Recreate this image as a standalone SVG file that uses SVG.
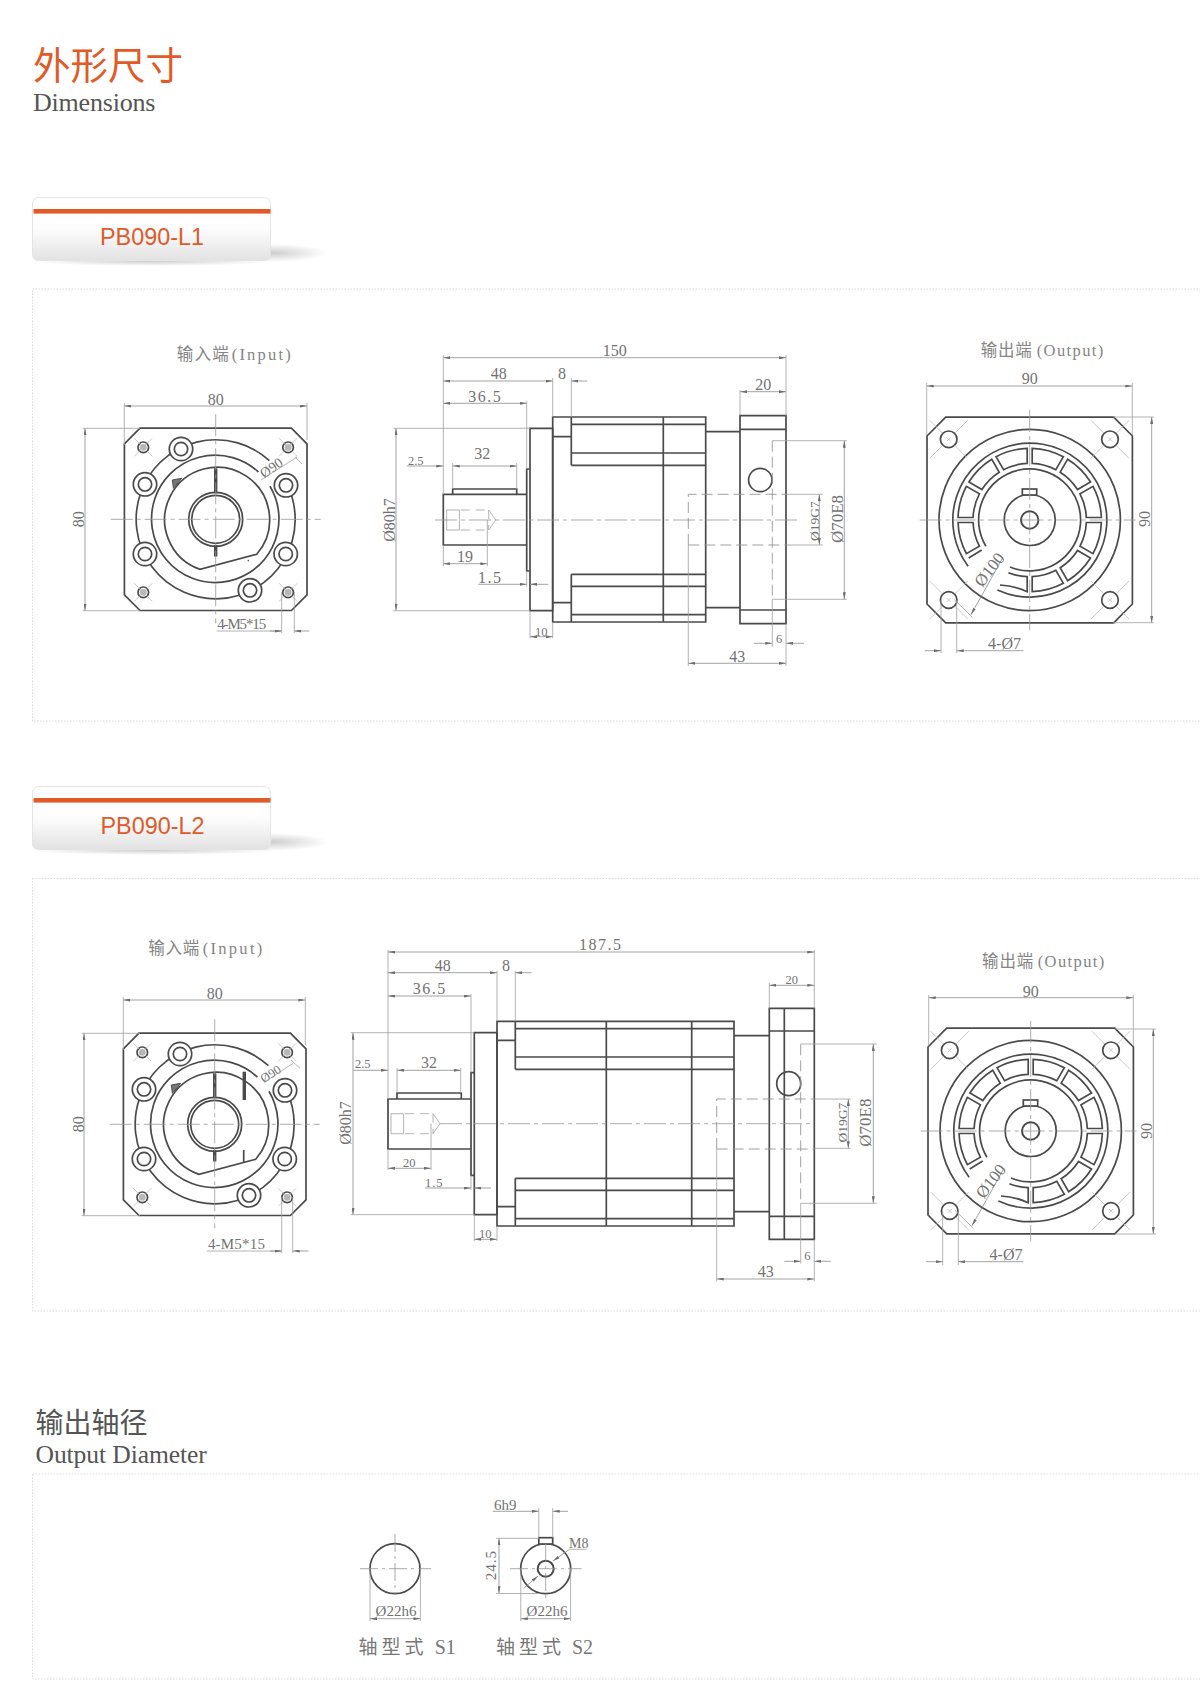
<svg xmlns="http://www.w3.org/2000/svg" xmlns:xlink="http://www.w3.org/1999/xlink" width="1200" height="1691" viewBox="0 0 1200 1691">
<style>
.m{fill:none;stroke:#4a4a4a;stroke-width:1.7}
.w{fill:#fff;stroke:#4a4a4a;stroke-width:1.7}
.b{fill:none;stroke:#4a4a4a;stroke-width:3.4}
.t{fill:none;stroke:#a0a0a0;stroke-width:.8}
.v{fill:none;stroke:#bcbcbc;stroke-width:.8}
.c{fill:none;stroke:#959595;stroke-width:.8;stroke-dasharray:22 4 4 4}
.h{fill:none;stroke:#959595;stroke-width:.9;stroke-dasharray:11 5}
.d{fill:none;stroke:#8a8a8a;stroke-width:.8;marker-start:url(#a);marker-end:url(#a)}
.r{fill:none;stroke:#8a8a8a;stroke-width:.8;marker-end:url(#a)}
.f{fill:none;stroke:#dcdcdc;stroke-width:1;stroke-dasharray:1.5 1.5}
text{font-family:"Liberation Serif","Noto Sans CJK SC",serif;fill:#727272}
.x{font-size:16px;text-anchor:middle}
.s{font-size:12.5px;text-anchor:middle}
.n{font-size:15px;text-anchor:middle}
.l{font-size:16.5px;fill:#858585}
.q{font-size:19px;fill:#777}
.g{font-family:"Liberation Sans",sans-serif;font-size:23.4px;fill:#e05a2b;text-anchor:middle}
</style>
<defs>
<marker id="a" viewBox="0 0 7 3" refX="7" refY="1.5" markerWidth="7" markerHeight="3" markerUnits="userSpaceOnUse" orient="auto-start-reverse"><path d="M0 0L7 1.5L0 3Z" fill="#6e6e6e"/></marker>
<linearGradient id="tg" x1="0" y1="0" x2="0" y2="1"><stop offset="0" stop-color="#fff"/><stop offset=".5" stop-color="#fdfdfd"/><stop offset="1" stop-color="#e2e2e2"/></linearGradient>
<radialGradient id="sg"><stop offset="0" stop-color="#cdcdcd"/><stop offset="1" stop-color="#cdcdcd" stop-opacity="0"/></radialGradient>
<g id="tab">
<ellipse cx="272" cy="253" rx="56" ry="9" fill="url(#sg)"/>
<ellipse cx="152" cy="261" rx="125" ry="5" fill="url(#sg)"/>
<rect x="32.5" y="197.5" width="238" height="63" rx="6" fill="url(#tg)" stroke="#e4e4e4"/>
<rect x="33.5" y="209" width="237" height="4.6" fill="#e25a28"/>
</g>
<g id="sm"><circle r="5.3" class="m"/><circle r="3.4" fill="#b5b5b5"/><path class="v" d="M-9-9L9 9M9-9L-9 9"/></g>
<g id="bolt"><circle r="11.7" class="w"/><circle r="6.7" class="m"/></g>
<g id="inPlate">
<path class="m" d="M-75.7-91.2H75.7L91.3-75.5V75.5L75.7 91.2H-75.7L-91.3 75.5V-75.5Z"/>
<path class="m" d="M71.5-34.7A79.5 79.5 0 1 1 53.7-58.6"/>
<path class="m" d="M54.3-33A63.7 63.7 0 1 1 42.7-47.3"/>
<path class="m" d="M41 35A52.5 52.5 0 1 0-15.7 50.1Z"/>
<path d="M-43.3-39.3L-34-41L-42.3-31Z" fill="#777" stroke="#4a4a4a"/>
<use href="#bolt" x="-34.7" y="-70.3"/><use href="#bolt" x="-70.7" y="-35"/><use href="#bolt" x="70.3" y="-34"/><use href="#bolt" x="-70.7" y="34.7"/><use href="#bolt" x="70" y="34.7"/><use href="#bolt" x="34.3" y="71"/>
<use href="#sm" x="-72.4" y="-72"/><use href="#sm" x="72.4" y="-72"/><use href="#sm" x="-72.4" y="73"/><use href="#sm" x="72.4" y="73"/>
<circle r="27" class="m"/><circle r="24" class="m"/>
<path class="b" d="M0-51V-26M0 25.7V37.3"/>
<path class="c" d="M-105 0H105M0-105V104"/>
</g>
<g id="hole"><circle r="8.3" class="m"/><path class="v" d="M-2-2L2 2M2-2L-2 2M-19-19L-6-6M6 6L19 19M19-19L6-6M-6 6L-19 19"/></g>
<path id="win" class="m" d="M71.66 2.5A71.7 71.7 0 0 1 63.31 33.67L50.3 26.15A56.7 56.7 0 0 0 56.64 2.5Z"/>
<g id="outPlate">
<path class="m" d="M-84-102.8H84L102.7-84V84L84 102.8H-84L-102.7 84V-84Z"/>
<circle r="90.7" class="m"/>
<path class="m" d="M-32.3 70A77 77 0 1 0-61.6 46.2"/>
<path class="m" d="M-19.7 47A51 51 0 1 0-43.8 26.2"/>
<use href="#win"/><use href="#win" transform="rotate(30)"/><use href="#win" transform="rotate(60)"/><use href="#win" transform="rotate(150)"/><use href="#win" transform="rotate(180)"/><use href="#win" transform="rotate(210)"/><use href="#win" transform="rotate(240)"/><use href="#win" transform="rotate(270)"/><use href="#win" transform="rotate(300)"/><use href="#win" transform="rotate(330)"/>
<path class="m" d="M-29.7 65A71.7 71.7 0 0 1-2.5 71.66V56.64A56.7 56.7 0 0 1-21.3 52.7M-61 38L-48 30"/>
<circle r="25.5" class="m"/>
<rect x="-7.4" y="-31" width="14.4" height="6" class="w"/>
<circle r="8.7" class="m" style="stroke-width:2"/>
<use href="#hole" x="-81" y="-80.7"/><use href="#hole" x="80.3" y="-80.7"/><use href="#hole" x="-81" y="80"/><use href="#hole" x="80.3" y="80"/>
<path class="c" d="M-110 0H106M0-110V110"/>
</g>
<g id="screw"><path class="t" d="M0-10H12.7V10H0ZM42-10L49 0L42 10"/><path class="t" style="stroke-dasharray:9 6" d="M14-10H42M14 10H42M42-10V10"/></g>
</defs>
<rect width="1200" height="1691" fill="#fff"/>

<g id="header">
<text x="33" y="79" style="font-family:'Noto Sans CJK SC',sans-serif;font-size:37.5px;fill:#e25a28">外形尺寸</text>
<text x="33" y="110.5" style="font-size:26px;letter-spacing:-.2px;fill:#555">Dimensions</text>
</g>

<g id="frames">
<rect class="f" x="32.5" y="289" width="1200" height="432"/>
<rect class="f" x="32.5" y="878.5" width="1200" height="432.5"/>
<rect class="f" x="32.5" y="1474" width="1200" height="205"/>
</g>

<g id="tab-L1"><use href="#tab"/><text class="g" x="152" y="245">PB090-L1</text></g>
<g id="tab-L2"><use href="#tab" y="589"/><text class="g" x="152.5" y="834">PB090-L2</text></g>

<g id="L1-input">
<use href="#inPlate" x="215.7" y="519.3"/>
<circle cx="248.3" cy="560.6" r=".8" fill="#555"/>
<text class="l" x="176.7" y="360" textLength="52" style="font-family:'Noto Sans CJK SC',sans-serif">输入端</text>
<text class="l" x="231.7" y="360" textLength="59">(Input)</text>
</g>
<g id="L1-side">
<path class="m" d="M443.3 494.3H526.7V545H443.3ZM452.7 494.3V489H516.7V494.3M526.7 469H530V571H526.7ZM530 428.3H552.7V610.7H530Z"/>
<path class="m" d="M552.7 417H705.7V622H552.7ZM552.7 436.7H571.3M552.7 602.7H571.3M571.3 417V465.3M571.3 574.3V622M571.3 424.3H705.7M571.3 453H705.7M571.3 465.3H705.7M571.3 574.3H705.7M571.3 586.3H705.7M571.3 614.7H705.7M663.3 417V622M705.7 431.7H740M705.7 607.7H740M740 415.7H786V623.7H740ZM740 429.3H786M740 610H786"/>
<circle class="m" cx="760.3" cy="480" r="11.7"/>
<use href="#screw" x="446.7" y="520"/>
<path class="h" d="M688.3 545V494.3H786M688.3 545H786M772.3 440.7V599.3"/>
<path class="c" d="M435 520H800"/>
</g>
<g id="L1-output">
<use href="#outPlate" x="1029.7" y="520"/>
<text class="l" x="980.7" y="355.7" textLength="51" style="font-family:'Noto Sans CJK SC',sans-serif">输出端</text>
<text class="l" x="1036.7" y="355.7" textLength="66.6">(Output)</text>
</g>

<g id="L1-dimensions">
<path class="d" d="M124.3 406H307"/><path class="t" d="M124.3 403V445M307 403V440"/><text class="x" x="215.7" y="404.5">80</text>
<path class="d" d="M85 428.3V610.7"/><path class="t" d="M82.7 428.3H140M82.7 610.7H140"/><text class="x" transform="translate(84 519.3) rotate(-90)">80</text>
<path class="t" d="M216.7 631H281.7"/><path class="r" d="M270 631H281.7"/><path class="r" d="M309.3 631H294.3"/><path class="t" d="M281.7 592V633M294.3 592V633"/><text class="n" x="241.7" y="629.3" textLength="49">4-M5*15</text>
<path class="t" d="M261 480L297 457M295 457L302 464"/><text class="s" transform="translate(271.7 468.3) rotate(-35)" y="4" style="font-size:14px">Ø90</text>

<path class="d" d="M443.3 357.7H786"/><path class="t" d="M443.3 355V494.3M786 355V415.7"/><text class="x" x="614.7" y="355.7">150</text>
<path class="d" d="M443.3 381H552.7"/><path class="r" d="M587.3 381H571.3"/><path class="t" d="M552.7 378V417M571.3 378V417"/><text class="x" x="498.7" y="378.7">48</text><text class="x" x="562" y="378.7">8</text>
<path class="d" d="M443.3 403.3H526.7"/><path class="t" d="M526.7 401V469"/><text class="x" x="485.3" y="401.7" style="letter-spacing:1.5px">36.5</text>
<path class="d" d="M396 428.3V610.7"/><path class="t" d="M393.3 428.3H530M393.3 610.7H530"/><text class="x" transform="translate(394.7 520) rotate(-90)">Ø80h7</text>
<path class="r" d="M406.7 466H443.3"/><text class="s" x="415.7" y="465">2.5</text>
<path class="d" d="M452.7 466H516.7"/><path class="t" d="M452.7 463V489M516.7 463V489"/><text class="x" x="482.3" y="459.3">32</text>
<path class="d" d="M443.3 563.7H487.3"/><path class="t" d="M443.3 545V566M487.3 520V566"/><text class="x" x="465" y="561.7">19</text>
<path class="r" d="M478.3 584.3H526.7"/><path class="r" d="M548.3 584.3H530"/><path class="t" d="M526.7 571V586.7"/><text class="x" x="490.3" y="582.7" style="letter-spacing:1.5px">1.5</text>
<path class="d" d="M530 636.7H552.7"/><path class="t" d="M530 610.7V638.3M552.7 622V638.3"/><text class="s" x="541.3" y="635.7">10</text>
<path class="r" d="M754 643.3H772.3"/><path class="r" d="M804 643.3H786"/><path class="t" d="M772.3 599.3V646.7M786 623.7V666"/><text class="s" x="779" y="642.7">6</text>
<path class="d" d="M688.3 663.3H786"/><path class="t" d="M688.3 545V666"/><text class="x" x="737.3" y="662">43</text>
<path class="d" d="M740 391.7H786"/><path class="t" d="M740 390V415.7"/><text class="x" x="763.3" y="390">20</text>
<path class="d" d="M844.3 440.7V599.3"/><path class="t" d="M772.3 440.7H846.7M772.3 599.3H846.7"/><text class="x" transform="translate(843 519) rotate(-90)" style="font-size:17px">Ø70E8</text>
<path class="d" d="M819.3 494.3V545"/><path class="t" d="M786 494.3H822.7M786 545H822.7"/><text class="s" transform="translate(818.5 521) rotate(-90)" style="font-size:13.5px">Ø19G7</text>

<path class="d" d="M926.7 386H1132.3"/><path class="t" d="M926.7 383V435M1132.3 383V435"/><text class="x" x="1029.7" y="384">90</text>
<path class="d" d="M1151.7 417V622.7"/><path class="t" d="M1113 417H1154M1113 622.7H1154"/><text class="x" transform="translate(1150 519) rotate(-90)">90</text>
<path class="r" d="M1003 557.3L971 614.7"/><path class="t" d="M954 599.3L972.4 617.3"/><text class="x" transform="translate(990 570) rotate(-52)" y="5" style="font-size:17px">Ø100</text>
<path class="r" d="M925 650.7H941"/><path class="r" d="M1023.3 650.7H956.7"/><path class="t" d="M941 600V653M956.7 600V653"/><text class="x" x="1004.5" y="649">4-Ø7</text>
</g>

<g id="L2-input">
<use href="#inPlate" x="214.7" y="1124.3"/>
<path class="b" d="M244.3 1071.7V1100"/>
<path class="m" d="M243.7 1150V1162"/>
<text class="l" x="148.3" y="954.3" textLength="51" style="font-family:'Noto Sans CJK SC',sans-serif">输入端</text>
<text class="l" x="202.7" y="954.3" textLength="59.6">(Input)</text>
</g>
<g id="L2-side">
<path class="m" d="M388 1099H471V1149H388ZM397 1099V1093H461.3V1099M471 1072.7H474.3V1175.3H471ZM474.3 1032.7H497V1214.7H474.3Z"/>
<path class="m" d="M497 1021.3H734V1226H497ZM497 1040.3H515.3M497 1206.7H515.3M515.3 1021.3V1069.3M515.3 1178.3V1226M515.3 1028.7H734M515.3 1057H734M515.3 1069.3H734M515.3 1178.3H734M515.3 1190.3H734M515.3 1218.7H734M606.3 1021.3V1226M691.7 1021.3V1226M734 1035.7H769.3M734 1211.7H769.3M769.3 1008.3H814.3V1239.3H769.3ZM769.3 1031H814.3M769.3 1216.3H814.3M784.3 1008.3V1239.3"/>
<circle class="m" cx="788.7" cy="1083.7" r="12"/>
<use href="#screw" x="391" y="1123.7"/>
<path class="h" d="M716.7 1149V1099H814.3M716.7 1149H814.3M800.7 1044.3V1203.3"/>
<path class="c" d="M440 1123.7H813"/>
</g>
<g id="L2-output">
<use href="#outPlate" x="1030.7" y="1131"/>
<text class="l" x="982" y="967.3" textLength="51.3" style="font-family:'Noto Sans CJK SC',sans-serif">输出端</text>
<text class="l" x="1037.7" y="967.3" textLength="66.6">(Output)</text>
</g>

<g id="L2-dimensions">
<path class="d" d="M123.3 1000H305.3"/><path class="t" d="M123.3 997V1050M305.3 997V1045"/><text class="x" x="214.7" y="999">80</text>
<path class="d" d="M84 1033.3V1215.7"/><path class="t" d="M81.5 1033.3H140M81.5 1215.7H140"/><text class="x" transform="translate(83.5 1124.3) rotate(-90)">80</text>
<path class="t" d="M206.7 1251H281.7"/><path class="r" d="M270 1251H281.7"/><path class="r" d="M308.3 1251H292.7"/><path class="t" d="M281.7 1197V1253M292.7 1197V1253"/><text class="n" x="236.4" y="1249.3" textLength="57">4-M5*15</text>
<path class="t" d="M265 1081.7L293 1063.3M291 1060L300 1068.3"/><text class="s" transform="translate(270.7 1074) rotate(-33)" y="4">Ø90</text>

<path class="d" d="M388 952H814.3"/><path class="t" d="M388 950V1099M814.3 950V1008.3"/><text class="x" x="600.7" y="950" style="letter-spacing:1.5px">187.5</text>
<path class="d" d="M388 972.7H497"/><path class="r" d="M531.7 972.7H515.3"/><path class="t" d="M497 970.7V1021.3M515.3 970.7V1021.3"/><text class="x" x="442.7" y="971">48</text><text class="x" x="506" y="971">8</text>
<path class="d" d="M388 996H471"/><path class="t" d="M471 994V1072.7"/><text class="x" x="429.7" y="994" style="letter-spacing:1.5px">36.5</text>
<path class="d" d="M353 1032.7V1214.7"/><path class="t" d="M350.7 1032.7H474.3M350.7 1214.7H474.3"/><text class="x" transform="translate(351 1123) rotate(-90)">Ø80h7</text>
<path class="r" d="M353.3 1070.3H388"/><text class="s" x="362.7" y="1067.7">2.5</text>
<path class="d" d="M397 1070.3H460.7"/><path class="t" d="M397 1068V1093M460.7 1068V1093"/><text class="x" x="429" y="1068">32</text>
<path class="d" d="M388 1168.3H431"/><path class="t" d="M388 1149V1170M431 1123.7V1170"/><text class="s" x="409.3" y="1167.3">20</text>
<path class="r" d="M425 1188H471"/><path class="r" d="M491 1188H474.3"/><path class="t" d="M471 1175.3V1190"/><text class="s" x="434.3" y="1186.7" style="letter-spacing:1px">1.5</text>
<path class="d" d="M474.3 1239.3H497"/><path class="t" d="M474.3 1214.7V1241M497 1226V1241"/><text class="s" x="485.3" y="1238.3">10</text>
<path class="r" d="M784.3 1261.3H800.7"/><path class="r" d="M830.7 1261.3H814.3"/><path class="t" d="M800.7 1203.3V1263.5M814.3 1239.3V1281.3"/><text class="s" x="807.3" y="1260">6</text>
<path class="d" d="M716.7 1279H814.3"/><path class="t" d="M716.7 1149V1281.3"/><text class="x" x="765.7" y="1277.3">43</text>
<path class="d" d="M769.3 985.3H814.3"/><path class="t" d="M769.3 983V1008.3"/><text class="s" x="791.7" y="984">20</text>
<path class="d" d="M873.3 1044V1203.3"/><path class="t" d="M800.7 1044H876.7M800.7 1203.3H876.7"/><text class="x" transform="translate(870.7 1122.7) rotate(-90)" style="font-size:17px">Ø70E8</text>
<path class="d" d="M848.3 1099V1148.3"/><path class="t" d="M814.3 1099H850.7M814.3 1148.3H850.7"/><text class="s" transform="translate(847.3 1122.7) rotate(-90)" style="font-size:13.5px">Ø19G7</text>

<path class="d" d="M928.7 997.7H1133.3"/><path class="t" d="M928.7 995V1046M1133.3 995V1046"/><text class="x" x="1030.7" y="996.7">90</text>
<path class="d" d="M1153.3 1029V1234"/><path class="t" d="M1115 1029H1156M1115 1234H1156"/><text class="x" transform="translate(1151.7 1131) rotate(-90)">90</text>
<path class="r" d="M1004 1168.3L972 1225.7"/><path class="t" d="M955 1210.3L973.4 1228.3"/><text class="x" transform="translate(991.5 1181.5) rotate(-52)" y="5" style="font-size:17px">Ø100</text>
<path class="r" d="M926 1261.7H942.7"/><path class="r" d="M1023.3 1261.7H958.3"/><path class="t" d="M942.7 1211V1265M958.3 1211V1265"/><text class="x" x="1006" y="1260">4-Ø7</text>
</g>

<g id="output-diameter-title">
<text x="35.5" y="1433" style="font-family:'Noto Sans CJK SC',sans-serif;font-size:28px;fill:#555">输出轴径</text>
<text x="35.5" y="1463.3" style="font-size:25.6px;fill:#555;letter-spacing:-.1px">Output Diameter</text>
</g>
<g id="shaft-S1">
<circle class="m" cx="395" cy="1568.7" r="25"/>
<path class="c" style="stroke-dasharray:18 4 3 4" d="M360 1568.7H431M395 1534V1594"/>
<path class="d" d="M370 1618.7H420.4"/><path class="t" d="M370 1568.7V1621M420.4 1568.7V1621"/>
<text class="n" x="396" y="1616">Ø22h6</text>
<text class="q" x="358.4" y="1654" style="font-family:'Noto Sans CJK SC',sans-serif;letter-spacing:4px">轴型式</text><text class="q" x="434.7" y="1654" style="font-size:20px">S1</text>
</g>
<g id="shaft-S2">
<circle class="m" cx="545.7" cy="1568.7" r="25"/>
<circle class="m" cx="545.7" cy="1568.7" r="8" style="stroke-width:2"/>
<rect class="w" x="538.8" y="1537.7" width="13.9" height="6.3"/>
<path class="c" style="stroke-dasharray:18 4 3 4" d="M510 1568.7H581.6M545.7 1544V1600"/>
<path class="r" d="M569.4 1549.3L553 1561"/><path class="r" d="M523.7 1588.3L538 1576"/><path class="t" d="M569.4 1549.3H586.5"/>
<path class="d" d="M520.8 1618.7H570.6"/><path class="t" d="M520.8 1568.7V1621M570.6 1568.7V1621"/>
<text class="n" x="547" y="1616">Ø22h6</text>
<path class="r" d="M492.7 1511.3H538.8"/><path class="r" d="M568 1511.3H552.7"/><path class="t" d="M538.8 1508V1537.7M552.7 1508V1537.7"/><text class="n" x="505.3" y="1510">6h9</text>
<path class="d" d="M499 1538.3V1593.3"/><path class="t" d="M496 1538.3H539M496 1593.5H540"/><text class="n" transform="translate(496 1565) rotate(-90)" style="letter-spacing:1px">24.5</text>
<text class="s" x="578.8" y="1548" style="font-size:14px">M8</text>
<text class="q" x="496" y="1654" style="font-family:'Noto Sans CJK SC',sans-serif;letter-spacing:4px">轴型式</text><text class="q" x="572" y="1654" style="font-size:20px">S2</text>
</g>
</svg>
